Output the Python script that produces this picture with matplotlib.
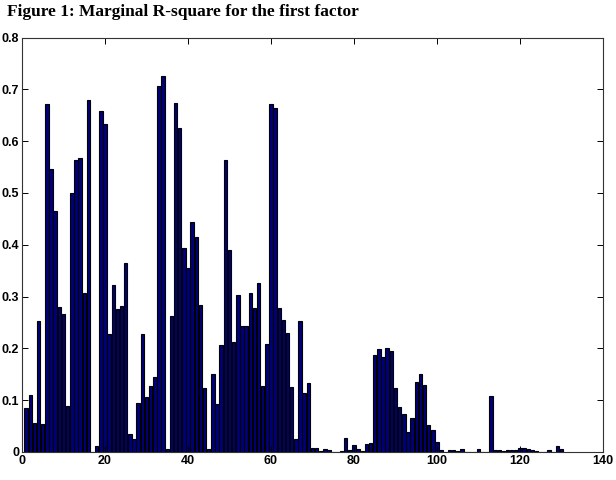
import matplotlib
matplotlib.use("Agg")
import matplotlib.pyplot as plt
import numpy as np

title = "Figure 1: Marginal R-square for the first factor"

variables = list(range(1, 131))
r_square = [
    0.084, 0.110, 0.056, 0.252, 0.054, 0.671, 0.546, 0.465, 0.280, 0.266,   # 1-10
    0.088, 0.500, 0.564, 0.568, 0.307, 0.680, 0.000, 0.011, 0.658, 0.634,   # 11-20
    0.228, 0.322, 0.276, 0.281, 0.364, 0.034, 0.025, 0.095, 0.228, 0.107,   # 21-30
    0.127, 0.145, 0.707, 0.726, 0.006, 0.262, 0.674, 0.625, 0.394, 0.356,   # 31-40
    0.443, 0.415, 0.284, 0.124, 0.006, 0.150, 0.093, 0.207, 0.564, 0.390,   # 41-50
    0.212, 0.303, 0.243, 0.243, 0.307, 0.277, 0.327, 0.128, 0.209, 0.671,   # 51-60
    0.663, 0.277, 0.255, 0.229, 0.126, 0.025, 0.252, 0.113, 0.133, 0.008,   # 61-70
    0.007, 0.002, 0.005, 0.003, 0.000, 0.000, 0.002, 0.027, 0.004, 0.013,   # 71-80
    0.006, 0.001, 0.015, 0.018, 0.188, 0.199, 0.184, 0.200, 0.194, 0.123,   # 81-90
    0.087, 0.073, 0.039, 0.065, 0.136, 0.151, 0.129, 0.053, 0.042, 0.020,   # 91-100
    0.003, 0.000, 0.003, 0.003, 0.002, 0.005, 0.000, 0.000, 0.000, 0.005,   # 101-110
    0.000, 0.000, 0.108, 0.004, 0.003, 0.002, 0.003, 0.003, 0.004, 0.008,   # 111-120
    0.007, 0.006, 0.004, 0.002, 0.000, 0.000, 0.004, 0.000, 0.011, 0.006,   # 121-130
]

x_ticks = [0, 20, 40, 60, 80, 100, 120, 140]
x_tick_labels = ["0", "20", "40", "60", "80", "100", "120", "140"]
y_ticks = [0, 0.1, 0.2, 0.3, 0.4, 0.5, 0.6, 0.7, 0.8]
y_tick_labels = ["0", "0.1", "0.2", "0.3", "0.4", "0.5", "0.6", "0.7", "0.8"]

fig = plt.figure(figsize=(6.16, 4.8), dpi=100)
fig.patch.set_facecolor("white")
ax = fig.add_axes([22 / 616, 28 / 480, 581 / 616, 414.5 / 480])

ax.bar(variables, r_square, width=0.82, color="#00007a", edgecolor="black", linewidth=0.8)

ax.set_xlim(0, 140)
ax.set_ylim(0, 0.8)
ax.set_xticks(x_ticks)
ax.set_xticklabels(x_tick_labels)
ax.set_yticks(y_ticks)
ax.set_yticklabels(y_tick_labels)

ax.tick_params(direction="in", top=True, right=True, length=4, width=0.7,
               labelsize=9, pad=2, colors="black")
for lab in ax.get_xticklabels() + ax.get_yticklabels():
    lab.set_fontfamily("Liberation Sans")
    lab.set_fontweight("bold")
for sp in ax.spines.values():
    sp.set_linewidth(0.8)
    sp.set_color("#333333")

fig.text(7 / 616, 1 - 12 / 480, title, fontsize=12.5, fontweight="bold",
         family="Liberation Serif", ha="left", va="center")

fig.savefig("out.png", dpi=100)
